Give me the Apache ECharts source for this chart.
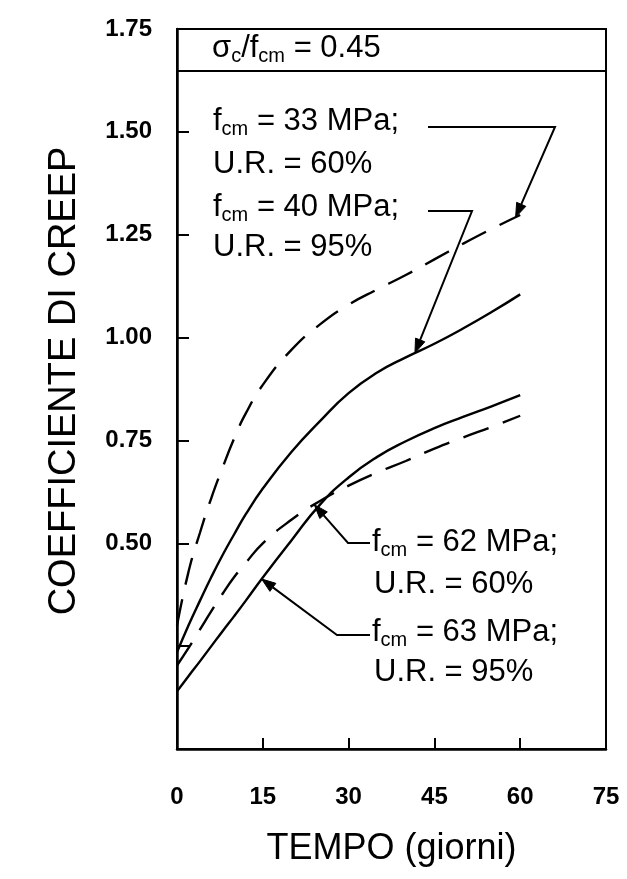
<!DOCTYPE html>
<html>
<head>
<meta charset="utf-8">
<script src="https://cdn.jsdelivr.net/npm/echarts@6/dist/echarts.min.js"></script>
<style>
  html, body { margin: 0; padding: 0; background: #fff; }
  #chart { width: 627px; height: 879px; }
</style>
</head>
<body>
<div id="chart"></div>
<script>
// Time in days and creep coefficient of each mix
const days = [0, 2, 4, 6, 8, 10, 12, 15, 20, 25, 30, 35, 40, 45, 50, 55, 60];
const phiFcm33RH60 = [0.30, 0.43, 0.525, 0.61, 0.685, 0.755, 0.815, 0.885, 0.97, 1.032, 1.08, 1.117, 1.152, 1.19, 1.228, 1.264, 1.298];
const phiFcm40RH95 = [0.235, 0.30, 0.36, 0.418, 0.472, 0.522, 0.57, 0.633, 0.722, 0.797, 0.865, 0.915, 0.952, 0.985, 1.022, 1.062, 1.105];
const phiFcm62RH60 = [0.203, 0.245, 0.29, 0.335, 0.378, 0.418, 0.452, 0.50, 0.557, 0.603, 0.64, 0.672, 0.70, 0.73, 0.757, 0.783, 0.81];
const phiFcm63RH95 = [0.14, 0.177, 0.213, 0.25, 0.287, 0.323, 0.36, 0.417, 0.507, 0.594, 0.66, 0.71, 0.748, 0.78, 0.807, 0.833, 0.86];

const xTicks = [0, 15, 30, 45, 60, 75];
const yTicks = [0, 0.25, 0.5, 0.75, 1.0, 1.25, 1.5, 1.75];

const FONT = '"Liberation Sans", Arial, Helvetica, sans-serif';

function pairs(values) {
  return days.map((d, i) => [d, values[i]]);
}

// value of a curve at an arbitrary day (used to place arrow tips on the curves)
function valueAt(values, t) {
  for (let i = 0; i < days.length - 1; i++) {
    if (t >= days[i] && t <= days[i + 1]) {
      const f = (t - days[i]) / (days[i + 1] - days[i]);
      return values[i] + f * (values[i + 1] - values[i]);
    }
  }
  return values[values.length - 1];
}

const chart = echarts.init(document.getElementById('chart'), null, { renderer: 'canvas' });

const curve = (name, values, dashed) => ({
  name: name,
  type: 'line',
  data: pairs(values),
  smooth: 0.5,
  showSymbol: false,
  symbol: 'none',
  lineStyle: { color: '#000', width: 2.4, type: dashed ? [27, 15] : 'solid' },
  z: 3
});

chart.setOption({
  animation: false,
  backgroundColor: '#fff',
  grid: {
    left: 177, right: 21, top: 29, bottom: 130,
    show: true, borderColor: '#000', borderWidth: 2, backgroundColor: 'transparent'
  },
  xAxis: {
    type: 'value',
    min: xTicks[0], max: xTicks[xTicks.length - 1], interval: 15,
    name: 'TEMPO (giorni)',
    nameLocation: 'middle',
    nameGap: 82,
    nameTextStyle: { fontSize: 36, fontFamily: FONT, color: '#000' },
    axisLine: { show: true, lineStyle: { color: '#000', width: 2.5 } },
    axisTick: { show: true, inside: true, length: 11, lineStyle: { color: '#000', width: 2 } },
    axisLabel: { fontSize: 24, fontWeight: 'bold', fontFamily: FONT, color: '#000', margin: 36 },
    splitLine: { show: false }
  },
  yAxis: {
    type: 'value',
    min: yTicks[0], max: yTicks[yTicks.length - 1], interval: 0.25,
    name: 'COEFFICIENTE DI CREEP',
    nameLocation: 'middle',
    nameGap: 93,
    nameTextStyle: { fontSize: 38, fontFamily: FONT, color: '#000', padding: [0, 0, 0, 16] },
    axisLine: { show: true, lineStyle: { color: '#000', width: 2.5 } },
    axisTick: { show: true, inside: true, length: 12, lineStyle: { color: '#000', width: 2 } },
    axisLabel: {
      fontSize: 24, fontWeight: 'bold', fontFamily: FONT, color: '#000', margin: 25,
      formatter: v => (v >= 0.5 ? v.toFixed(2) : '')
    },
    splitLine: { show: false }
  },
  series: [
    curve('fcm 33 MPa; U.R. 60%', phiFcm33RH60, true),
    curve('fcm 40 MPa; U.R. 95%', phiFcm40RH95, false),
    curve('fcm 62 MPa; U.R. 60%', phiFcm62RH60, true),
    curve('fcm 63 MPa; U.R. 95%', phiFcm63RH95, false)
  ]
});

// ---- annotations: header band, labels and arrowed leaders ----
const px = (t, v) => chart.convertToPixel({ gridIndex: 0 }, [t, v]);
const topLeft = px(0, 1.75);
const botRight = px(75, 0);
const headerY = topLeft[1] + 42;

const rich = {
  sub: { fontSize: 20, fontFamily: FONT, fill: '#000', padding: [16, 0, 0, 0] }
};

function label(text, x, y) {
  return {
    type: 'text',
    x: x, y: y,
    z: 10,
    style: {
      text: text,
      fontSize: 31,
      fontFamily: FONT,
      fill: '#000',
      verticalAlign: 'middle',
      align: 'left',
      rich: rich
    }
  };
}

function leader(points) {
  const n = points.length;
  const tip = points[n - 1];
  const prev = points[n - 2];
  const dx = tip[0] - prev[0], dy = tip[1] - prev[1];
  const len = Math.sqrt(dx * dx + dy * dy);
  const ux = dx / len, uy = dy / len;
  const headLen = 14, headW = 5;
  const bx = tip[0] - ux * headLen, by = tip[1] - uy * headLen;
  const nx = -uy, ny = ux;
  return [
    {
      type: 'polyline', z: 9,
      shape: { points: points.slice(0, n - 1).concat([[bx, by]]) },
      style: { stroke: '#000', lineWidth: 2, fill: null }
    },
    {
      type: 'polygon', z: 9,
      shape: { points: [tip, [bx + nx * headW, by + ny * headW], [bx - nx * headW, by - ny * headW]] },
      style: { fill: '#000', stroke: '#000', lineWidth: 1 }
    }
  ];
}

const tip33 = px(59.2, valueAt(phiFcm33RH60, 59.2));
const tip40 = px(41.6, valueAt(phiFcm40RH95, 41.6));
const tip62 = px(24.0, valueAt(phiFcm62RH60, 24.0));
const tip63 = px(14.8, valueAt(phiFcm63RH95, 14.8));

const graphics = [
  {
    type: 'line', z: 8,
    shape: { x1: topLeft[0], y1: headerY, x2: botRight[0], y2: headerY },
    style: { stroke: '#000', lineWidth: 2 }
  },
  label('σ{sub|c}/f{sub|cm} = 0.45', 212, 48),
  label('f{sub|cm} = 33 MPa;', 213, 121),
  label('U.R. = 60%', 213, 164),
  label('f{sub|cm} = 40 MPa;', 213, 207),
  label('U.R. = 95%', 213, 247),
  label('f{sub|cm} = 62 MPa;', 372, 542),
  label('U.R. = 60%', 374, 584),
  label('f{sub|cm} = 63 MPa;', 372, 632),
  label('U.R. = 95%', 374, 672)
]
  .concat(leader([[428, 127], [555, 127], tip33]))
  .concat(leader([[428, 211], [472, 211], tip40]))
  .concat(leader([[370, 543], [348, 543], tip62]))
  .concat(leader([[370, 635], [337, 635], tip63]));

chart.setOption({ graphic: graphics });
</script>
</body>
</html>
